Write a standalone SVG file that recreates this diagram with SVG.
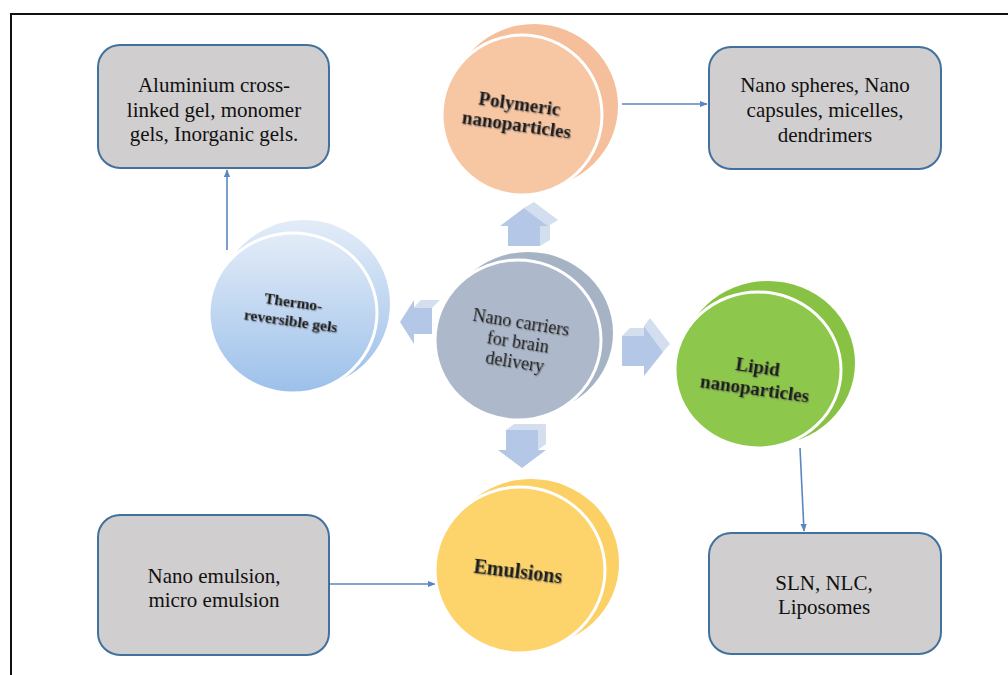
<svg xmlns="http://www.w3.org/2000/svg" width="1008" height="675" viewBox="0 0 1008 675">
<style>
.box{fill:#d0cece;stroke:#41719c;stroke-width:2}
.bt{font-size:21px;fill:#111;text-anchor:middle}
.ct{font-weight:bold;fill:#1a1a1a;text-anchor:middle;filter:url(#sh)}
.cn{fill:#1a1a1a;text-anchor:middle;filter:url(#sh)}
.gap{stroke:#fff;stroke-width:3}
.conn{stroke:#5b87c0;stroke-width:1.6;fill:none;marker-end:url(#ah)}
.ba{fill:#b4c7e7}
.bs{fill:#d3deef}
</style>
<defs>
<marker id="ah" viewBox="0 0 10 10" refX="9" refY="5" markerWidth="5" markerHeight="5" orient="auto" markerUnits="strokeWidth">
<path d="M0,1 L10,5 L0,9 z" fill="#5b87c0"/>
</marker>
<linearGradient id="tg" x1="0" y1="0" x2="0" y2="1">
<stop offset="0" stop-color="#e3ecf8"/>
<stop offset="1" stop-color="#9cc0ea"/>
</linearGradient>
<filter id="sh" x="-10%" y="-30%" width="130%" height="170%">
<feDropShadow dx="1" dy="1.2" stdDeviation="0.6" flood-color="#555" flood-opacity="0.5"/>
</filter>
</defs>
<rect x="0" y="0" width="1008" height="675" fill="#fff"/>
<rect x="11" y="14" width="1010" height="700" fill="none" stroke="#111" stroke-width="2"/>

<g id="connectors">
<line class="conn" x1="227" y1="250" x2="227" y2="170"/>
<line class="conn" x1="622" y1="104" x2="707" y2="104"/>
<line class="conn" x1="330" y1="584" x2="435" y2="584"/>
<line class="conn" x1="800" y1="448" x2="804" y2="531"/>
</g>

<g id="block-arrows">
<g id="arrow-up">
<polygon class="bs" points="540,226 550,220 550,240 540,246"/>
<polygon class="bs" points="524,208 534,202 558,220 548,226"/>
<polygon class="ba" points="508,246 508,226 500,226 524,208 548,226 540,226 540,246"/>
</g>
<g id="arrow-left">
<polygon class="bs" points="413,308 421,300 440,300 432,308"/>
<polygon class="ba" points="400,322 414,300 414,308 432,308 432,334 414,334 414,344"/>
</g>
<g id="arrow-right">
<polygon class="bs" points="622,336 630,328 648,328 644,336"/>
<polygon class="bs" points="644,326 650,318 670,344 663,352"/>
<polygon class="ba" points="622,336 644,336 644,326 663,352 644,376 644,366 622,366"/>
</g>
<g id="arrow-down">
<polygon class="bs" points="538,430 546,424 546,444 538,450"/>
<polygon class="bs" points="506,430 514,424 546,424 538,430"/>
<polygon class="ba" points="506,430 538,430 538,450 546,450 522,468 498,450 506,450"/>
</g>
</g>

<g font-family="'Liberation Serif', 'Times New Roman', serif">
<g id="node-polymeric">
<ellipse cx="534" cy="106" rx="84" ry="82" fill="#f4bf9a"/>
<ellipse class="gap" cx="522" cy="115" rx="80" ry="80" fill="#f7c6a3"/>
<g transform="rotate(8 518 115)">
<text class="ct" x="518" y="110" font-size="19">Polymeric</text>
<text class="ct" x="518" y="131" font-size="19">nanoparticles</text>
</g>
</g>

<g id="node-center">
<ellipse cx="528" cy="333" rx="85" ry="81" fill="#a6b3c5"/>
<ellipse class="gap" cx="518" cy="340" rx="83" ry="80" fill="#adb9ca"/>
<g transform="rotate(9 518 342)">
<text class="cn" x="518" y="328" font-size="18">Nano carriers</text>
<text class="cn" x="518" y="348" font-size="18">for brain</text>
<text class="cn" x="518" y="368" font-size="18">delivery</text>
</g>
</g>

<g id="node-thermo">
<ellipse cx="304" cy="304" rx="86" ry="84" fill="url(#tg)"/>
<ellipse class="gap" cx="293" cy="313" rx="84" ry="80" fill="url(#tg)"/>
<g transform="rotate(8 292 312)">
<text class="ct" x="292" y="307" font-size="15.5">Thermo-</text>
<text class="ct" x="292" y="326" font-size="15.5">reversible gels</text>
</g>
</g>

<g id="node-lipid">
<ellipse cx="768" cy="363" rx="87" ry="82" fill="#88c244"/>
<ellipse class="gap" cx="758" cy="370" rx="83" ry="78" fill="#8dc74b"/>
<g transform="rotate(8 756 380)">
<text class="ct" x="756" y="373" font-size="19">Lipid</text>
<text class="ct" x="756" y="395" font-size="19">nanoparticles</text>
</g>
</g>

<g id="node-emulsions">
<ellipse cx="531" cy="563" rx="88" ry="84" fill="#fbd064"/>
<ellipse class="gap" cx="520" cy="570" rx="85" ry="83" fill="#fdd46c"/>
<g transform="rotate(7 518 572)">
<text class="ct" x="518" y="578" font-size="20">Emulsions</text>
</g>
</g>

<g id="box-gels">
<rect class="box" x="98" y="45" width="231" height="123" rx="22"/>
<text class="bt" x="214" y="92">Aluminium cross-</text>
<text class="bt" x="214" y="117">linked gel, monomer</text>
<text class="bt" x="214" y="141">gels, Inorganic gels.</text>
</g>

<g id="box-polymeric">
<rect class="box" x="709" y="47" width="232" height="122" rx="22"/>
<text class="bt" x="825" y="92">Nano spheres, Nano</text>
<text class="bt" x="825" y="117">capsules, micelles,</text>
<text class="bt" x="825" y="142">dendrimers</text>
</g>

<g id="box-emulsions">
<rect class="box" x="98" y="515" width="231" height="140" rx="22"/>
<text class="bt" x="214" y="583">Nano emulsion,</text>
<text class="bt" x="214" y="607">micro emulsion</text>
</g>

<g id="box-lipid">
<rect class="box" x="709" y="533" width="232" height="121" rx="22"/>
<text class="bt" x="824" y="590">SLN, NLC,</text>
<text class="bt" x="824" y="614">Liposomes</text>
</g>
</g>
</svg>
